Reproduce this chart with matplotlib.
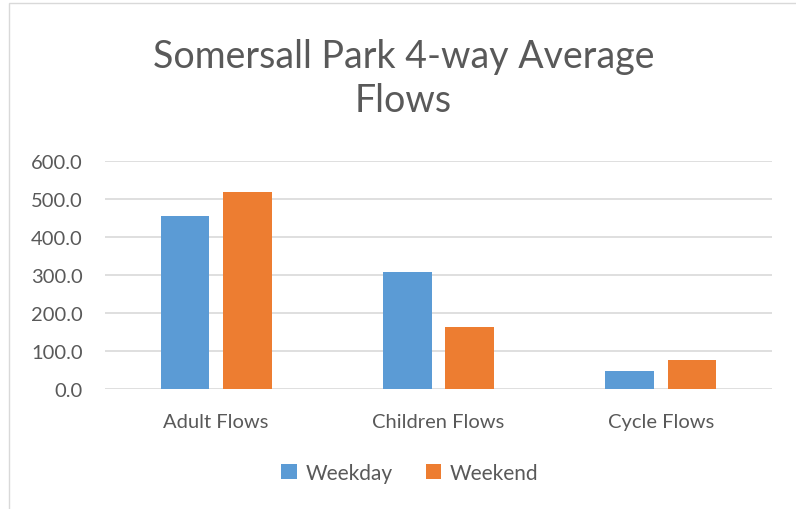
import numpy as np
import matplotlib.pyplot as plt
from matplotlib.patches import Rectangle

# 数据
categories = ['Adult Flows', 'Children Flows', 'Cycle Flows']
weekday = [455, 308, 48]
weekend = [518, 164, 76]
y_ticks = [0, 100, 200, 300, 400, 500, 600]

if __name__ == '__main__':
    plt.rcParams['font.family'] = ['Lato', 'DejaVu Sans']
    text_color = '#595959'

    fig = plt.figure(figsize=(7.96, 5.10), dpi=100)
    ax = fig.add_axes([105 / 796, 1 - 390 / 510, 667 / 796, 228 / 510])

    x = np.arange(len(categories))
    w = 0.22
    ax.bar(x - 0.14, weekday, w, color='#5B9BD5', label='Weekday', zorder=3)
    ax.bar(x + 0.14, weekend, w, color='#ED7D31', label='Weekend', zorder=3)

    ax.set_xlim(-0.5, 2.5)
    ax.set_ylim(0, 600)
    ax.set_yticks(y_ticks)
    ax.set_yticklabels(['%.1f' % v for v in y_ticks])
    ax.set_xticks(x)
    ax.set_xticklabels(categories)
    ax.grid(axis='y', color='#d9d9d9', linewidth=1.2, zorder=0)
    for s in ax.spines.values():
        s.set_visible(False)
    ax.tick_params(length=0, colors=text_color, labelsize=14.5)
    ax.tick_params(axis='x', pad=17)
    ax.tick_params(axis='y', pad=16)

    # 标题
    fig.text(0.507, 1 - 79 / 510, 'Somersall Park 4-way Average\nFlows', ha='center', va='center',
             fontsize=27, color=text_color, linespacing=1.28)

    # 图例
    fig.legend(loc='center', bbox_to_anchor=(0.515, 1 - 474 / 510), ncol=2, frameon=False,
               fontsize=15, labelcolor=text_color, handlelength=0.75, handleheight=0.75,
               handletextpad=0.4, columnspacing=1.6)

    # 边框
    fig.patches.append(Rectangle((9 / 796, -0.02), 1.0, 1 - 4 / 510 + 0.02, transform=fig.transFigure,
                                 fill=False, edgecolor='#d9d9d9', linewidth=1))

    plt.savefig('out.png', dpi=100)
